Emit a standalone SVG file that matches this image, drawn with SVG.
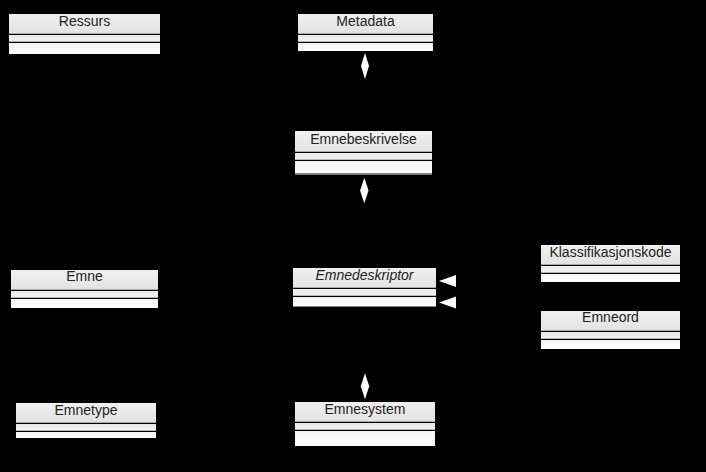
<svg xmlns="http://www.w3.org/2000/svg" width="706" height="472" viewBox="0 0 706 472">
<defs>
<linearGradient id="gh" x1="0" y1="0" x2="0" y2="1">
<stop offset="0" stop-color="#f0f0f0"/>
<stop offset="1" stop-color="#e2e2e2"/>
</linearGradient>
<linearGradient id="ga" x1="0" y1="0" x2="0" y2="1">
<stop offset="0" stop-color="#e8e8e8"/>
<stop offset="1" stop-color="#f2f2f2"/>
</linearGradient>
<linearGradient id="go" x1="0" y1="0" x2="0" y2="1">
<stop offset="0" stop-color="#f2f2f2"/>
<stop offset="1" stop-color="#ffffff"/>
</linearGradient>
</defs>
<style>
.h{fill:url(#gh)}
.a{fill:url(#ga)}
.o{fill:url(#go)}
.d{stroke:#000;stroke-width:1.2;fill:none}
.t{font-family:"Liberation Sans",Arial,sans-serif;font-size:14px;fill:#222;text-anchor:middle}
.i{font-style:italic}
.c{stroke:#000;stroke-width:1;fill:none}
.w{fill:#fff;stroke:none}
</style>
<rect x="0" y="0" width="706" height="472" fill="#000"/>
<g id="connectors">
<line class="c" x1="365" y1="79" x2="365" y2="131"/>
<polygon class="w" points="365,53 369,66 365,79 361,66"/>
<line class="c" x1="364" y1="203" x2="364" y2="268"/>
<polygon class="w" points="364.3,177.7 368.5,190.5 364.3,203.3 360.1,190.5"/>
<line class="c" x1="365" y1="373" x2="365" y2="307"/>
<polygon class="w" points="365,373.3 369.2,386.3 365,399.3 360.8,386.3"/>
<line class="c" x1="456" y1="281" x2="541" y2="263"/>
<polygon class="w" points="439,281 456,275 456,287"/>
<line class="c" x1="456" y1="302.5" x2="541" y2="330"/>
<polygon class="w" points="439,302.5 456,296.5 456,308.5"/>
</g>
<g id="Ressurs">
<rect class="h" x="9" y="14" width="151" height="20"/>
<rect class="a" x="9" y="34" width="151" height="8"/>
<rect class="o" x="9" y="42" width="151" height="12"/>
<line class="d" x1="9" y1="34.3" x2="160" y2="34.3"/>
<line class="d" x1="9" y1="42.3" x2="160" y2="42.3"/>
<text class="t" x="84.5" y="25.5">Ressurs</text>
</g>
<g id="Metadata">
<rect class="h" x="298" y="14" width="135" height="20"/>
<rect class="a" x="298" y="34" width="135" height="8"/>
<rect class="o" x="298" y="42" width="135" height="9"/>
<line class="d" x1="298" y1="34.3" x2="433" y2="34.3"/>
<line class="d" x1="298" y1="42.3" x2="433" y2="42.3"/>
<text class="t" x="365.5" y="25.7">Metadata</text>
</g>
<g id="Emnebeskrivelse">
<rect class="h" x="295" y="131" width="137" height="21"/>
<rect class="a" x="295" y="152" width="137" height="8"/>
<rect class="o" x="295" y="160" width="137" height="15"/>
<line class="d" x1="295" y1="152.3" x2="432" y2="152.3"/>
<line class="d" x1="295" y1="160.3" x2="432" y2="160.3"/>
<line class="d" x1="295" y1="174" x2="432" y2="174"/>
<text class="t" x="363.5" y="143.8">Emnebeskrivelse</text>
</g>
<g id="Emnedeskriptor">
<rect class="h" x="293" y="268" width="143" height="20"/>
<rect class="a" x="293" y="288" width="143" height="8"/>
<rect class="o" x="293" y="296" width="143" height="11"/>
<line class="d" x1="293" y1="288.3" x2="436" y2="288.3"/>
<line class="d" x1="293" y1="296.3" x2="436" y2="296.3"/>
<line class="d" x1="293" y1="307" x2="436" y2="307"/>
<text class="t i" x="364.5" y="279.5">Emnedeskriptor</text>
</g>
<g id="Klassifikasjonskode">
<rect class="h" x="541" y="245" width="139" height="20"/>
<rect class="a" x="541" y="265" width="139" height="8"/>
<rect class="o" x="541" y="273" width="139" height="9"/>
<line class="d" x1="541" y1="265.3" x2="680" y2="265.3"/>
<line class="d" x1="541" y1="273.3" x2="680" y2="273.3"/>
<text class="t" x="610.5" y="256.7">Klassifikasjonskode</text>
</g>
<g id="Emneord">
<rect class="h" x="541" y="311" width="139" height="20"/>
<rect class="a" x="541" y="331" width="139" height="8"/>
<rect class="o" x="541" y="339" width="139" height="10"/>
<line class="d" x1="541" y1="331.3" x2="680" y2="331.3"/>
<line class="d" x1="541" y1="339.3" x2="680" y2="339.3"/>
<text class="t" x="610.5" y="322.4">Emneord</text>
</g>
<g id="Emne">
<rect class="h" x="11" y="270" width="147" height="20"/>
<rect class="a" x="11" y="290" width="147" height="8"/>
<rect class="o" x="11" y="298" width="147" height="10"/>
<line class="d" x1="11" y1="290.3" x2="158" y2="290.3"/>
<line class="d" x1="11" y1="298.3" x2="158" y2="298.3"/>
<text class="t" x="84.5" y="281.4">Emne</text>
</g>
<g id="Emnetype">
<rect class="h" x="16" y="403" width="140" height="20"/>
<rect class="a" x="16" y="423" width="140" height="8"/>
<rect class="o" x="16" y="431" width="140" height="7"/>
<line class="d" x1="16" y1="423.3" x2="156" y2="423.3"/>
<line class="d" x1="16" y1="431.3" x2="156" y2="431.3"/>
<text class="t" x="86" y="415">Emnetype</text>
</g>
<g id="Emnesystem">
<rect class="h" x="295" y="402" width="140" height="20"/>
<rect class="a" x="295" y="422" width="140" height="8"/>
<rect class="o" x="295" y="430" width="140" height="16"/>
<line class="d" x1="295" y1="422.3" x2="435" y2="422.3"/>
<line class="d" x1="295" y1="430.3" x2="435" y2="430.3"/>
<text class="t" x="365" y="414">Emnesystem</text>
</g>
</svg>
